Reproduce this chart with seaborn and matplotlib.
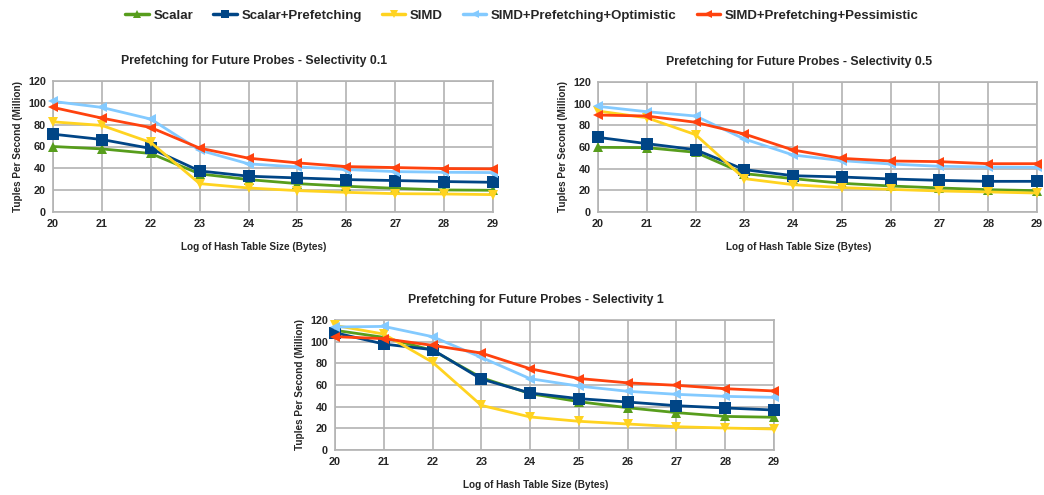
import matplotlib
matplotlib.use("Agg")
import matplotlib.pyplot as plt
import seaborn as sns
import pandas as pd
from matplotlib.lines import Line2D

sizes = [20, 21, 22, 23, 24, 25, 26, 27, 28, 29]
series_names = ["Scalar", "Scalar+Prefetching", "SIMD",
                "SIMD+Prefetching+Optimistic", "SIMD+Prefetching+Pessimistic"]

sel01_scalar = [60, 57.8, 53.6, 34.9, 29.7, 26, 23.6, 21.7, 20.2, 19.9]
sel01_scalar_pref = [71.3, 66.4, 58.2, 37.6, 32.8, 31.2, 29.7, 28.8, 27.9, 27.2]
sel01_simd = [82.6, 79.3, 63.7, 26, 22, 19.6, 18, 16.8, 16.5, 15.9]
sel01_opt = [101.3, 95.8, 85.1, 56.6, 44.1, 41.3, 38.9, 37, 36.4, 36.1]
sel01_pess = [95.8, 86, 77.4, 58.5, 49.3, 45, 41.6, 40.7, 39.8, 39.5]

sel05_scalar = [59.7, 59.4, 55.1, 35.4, 30.8, 26.5, 24, 22.2, 20.6, 19.7]
sel05_scalar_pref = [68.9, 63.1, 57.5, 39.1, 33.5, 32.3, 30.5, 29.2, 28.3, 28.3]
sel05_simd = [93.2, 87, 71.4, 30.8, 25.2, 22.5, 20.9, 19.4, 18.5, 17.5]
sel05_opt = [97.5, 92.6, 88.6, 67.4, 52.6, 47.4, 44.3, 42.2, 41.5, 41.2]
sel05_pess = [89.5, 88.6, 82.8, 72, 57.2, 49.5, 47.1, 46.5, 44.6, 44.6]

sel1_scalar = [110.5, 104, 92, 66.8, 52, 44.6, 39, 34.5, 31, 30.2]
sel1_scalar_pref = [108.3, 97.8, 92.6, 65.5, 52.6, 47.4, 44.3, 40.9, 38.8, 36.9]
sel1_simd = [115, 107, 81, 41.2, 30.5, 26.5, 24, 21.5, 20.3, 19.4]
sel1_opt = [113.5, 114.1, 104.6, 85.5, 65.8, 59, 54.2, 51.4, 49.5, 48.6]
sel1_pess = [104.6, 102.8, 96.6, 89.5, 75, 66, 62, 59.7, 56.6, 54.5]

titles = ["Prefetching for Future Probes - Selectivity 0.1",
          "Prefetching for Future Probes - Selectivity 0.5",
          "Prefetching for Future Probes - Selectivity 1"]
y_ticks = [0, 20, 40, 60, 80, 100, 120]

colors = ["#579d1c", "#004586", "#ffd320", "#83caff", "#ff420e"]
markers = ["^", "s", "v", "<", "<"]
msizes = [7, 8, 7, 7, 7]

panels = [
    [sel01_scalar, sel01_scalar_pref, sel01_simd, sel01_opt, sel01_pess],
    [sel05_scalar, sel05_scalar_pref, sel05_simd, sel05_opt, sel05_pess],
    [sel1_scalar, sel1_scalar_pref, sel1_simd, sel1_opt, sel1_pess],
]

sns.set_style("white")
plt.rcParams["font.family"] = ["Liberation Sans", "DejaVu Sans"]
plt.rcParams["font.weight"] = "bold"

W, H = 1044, 495
fig = plt.figure(figsize=(W / 100, H / 100), dpi=100)

# pixel boxes: left, top, right, bottom
boxes = [(53, 81, 493, 212), (598, 82, 1037, 212), (335, 320, 774, 450)]

for (l, t, r, b), title, vals in zip(boxes, titles, panels):
    ax = fig.add_axes([l / W, 1 - b / H, (r - l) / W, (b - t) / H])
    rows = []
    for name, v in zip(series_names, vals):
        for s, y in zip(sizes, v):
            rows.append({"size": s, "value": y, "series": name})
    df = pd.DataFrame(rows)
    for i, name in enumerate(series_names):
        sub = df[df["series"] == name]
        sns.lineplot(data=sub, x="size", y="value", ax=ax, color=colors[i],
                     marker=markers[i], markersize=msizes[i], linewidth=2.0,
                     markeredgewidth=0, legend=False, zorder=3)
    ax.set_xlim(20, 29)
    ax.set_ylim(0, 120)
    ax.set_xticks(sizes)
    ax.set_yticks(y_ticks)
    ax.grid(True, color="#b3b3b3", linewidth=1.2)
    ax.set_axisbelow(True)
    for sp in ax.spines.values():
        sp.set_color("#b3b3b3")
        sp.set_linewidth(1.2)
    ax.tick_params(axis="both", labelsize=7.8, length=3, color="#b3b3b3", pad=2)
    for lab in ax.get_xticklabels() + ax.get_yticklabels():
        lab.set_fontweight("bold")
    ax.set_xlabel("Log of Hash Table Size (Bytes)", fontsize=7.2, fontweight="bold", labelpad=9.5)
    ax.xaxis.label.set_x(0.457)
    ax.set_ylabel("Tuples Per Second (Million)", fontsize=7.2, fontweight="bold", labelpad=4)
    ax.set_title(title, fontsize=8.8, fontweight="bold", pad=12, x=0.457)
    for ln in ax.lines:
        ln.set_clip_on(False)

handles = [Line2D([0], [0], color=c, marker=m, markersize=6, linewidth=2.5,
                  markeredgewidth=0) for c, m in zip(colors, markers)]
fig.legend(handles, series_names, loc="center", bbox_to_anchor=(0.5, 1 - 16 / H),
           ncol=5, frameon=False, handlelength=1.8,
           columnspacing=1.5, handletextpad=0.35, prop={"weight": "bold", "size": 9.5})

fig.savefig("out.png", dpi=100)
